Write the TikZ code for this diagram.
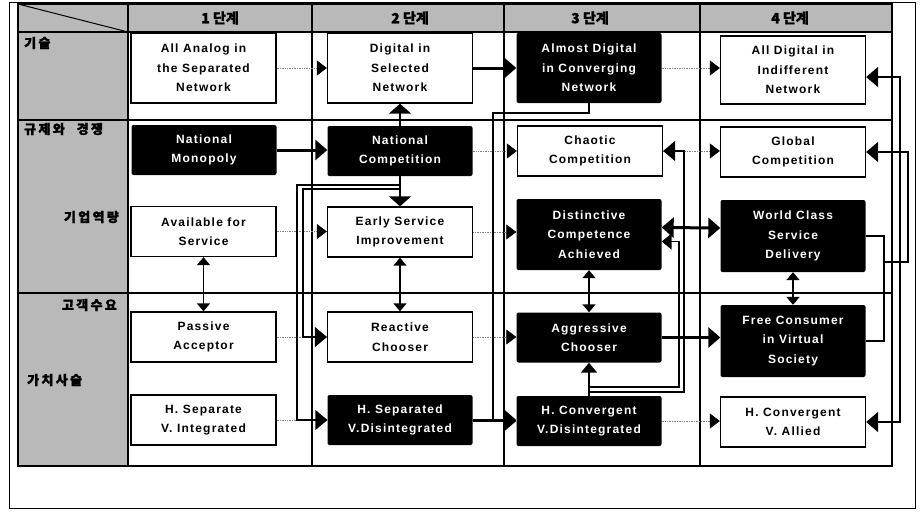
\documentclass[tikz,border=0pt]{standalone}
\usepackage{fontspec}
\usetikzlibrary{arrows.meta}

\newfontfamily\boxfont{Liberation Sans}[LetterSpace=10]
\newfontfamily\kofont{Noto Sans CJK KR}[LetterSpace=18, BoldFeatures={FakeBold=1.5}]
\newfontfamily\hdfont{Noto Sans CJK KR}[BoldFeatures={FakeBold=1.5}]

\tikzset{
  bigtip/.tip={Triangle[length=12pt,width=20pt]},
  midtip/.tip={Triangle[length=10pt,width=16pt]},
  smalltip/.tip={Triangle[length=8pt,width=13pt]},
  stage/.style={minimum width=145pt, minimum height=50pt, inner sep=0pt, align=center,
    font=\boxfont\bfseries\fontsize{12}{19.5}\selectfont},
  wstage/.style={stage, draw=black, line width=1.3pt, fill=white},
  bstage/.style={stage, fill=black, text=white, rounded corners=2pt},
  tall/.style={minimum height=70pt},
  rowlabel/.style={font=\kofont\bfseries\fontsize{13}{13}\selectfont, inner sep=0pt},
  colhead/.style={font=\hdfont\bfseries\fontsize{14}{14}\selectfont, inner sep=0pt},
  dotlink/.style={densely dotted, line width=0.7pt, black!50, -{Triangle[length=10pt,width=15pt,color=black]}},
  thicklink/.style={line width=3pt, -{bigtip}},
  link/.style={line width=1.8pt},
  twoway/.style={line width=1.5pt, {smalltip}-{smalltip}}
}

\begin{document}
\begin{tikzpicture}[x=1pt, y=-1pt]
  \useasboundingbox (0,0) rectangle (922,515);

  % Table
  \fill[gray!55] (18,4) rectangle (892,32);
  \fill[gray!55] (18,32) rectangle (128,466);
  \draw[line width=0.8pt] (9,2) rectangle (915,508);
  \draw[line width=1.4pt] (18,4) rectangle (892,466);
  \foreach \y in {32,120,293}
    \draw[line width=1.4pt] (18,\y) -- (892,\y);
  \foreach \x in {128,312,504,700}
    \draw[line width=1.4pt] (\x,4) -- (\x,466);
  \draw[line width=1pt] (18,4) -- (128,32);

  % Column heads
  \node[colhead] (hd1) at (220,18) {1 단계};
  \node[colhead] (hd2) at (410,18) {2 단계};
  \node[colhead] (hd3) at (590,18) {3 단계};
  \node[colhead] (hd4) at (790,18) {4 단계};

  % Row labels
  \node[rowlabel, anchor=west] (lbtech) at (24,43) {기술};
  \node[rowlabel, anchor=west] (lbreg) at (24,129) {규제와\hspace{12pt}경쟁};
  \node[rowlabel, anchor=east] (lbcap) at (119,217) {기업역량};
  \node[rowlabel, anchor=east] (lbcust) at (117,305) {고객수요};
  \node[rowlabel, anchor=west] (lbval) at (27,380) {가치사슬};

  % Stage boxes
  \node[wstage,tall] (tech1) at (203.5,68) {All Analog in\\the Separated\\Network};
  \node[wstage,tall] (tech2) at (400,68) {Digital in\\Selected\\Network};
  \node[bstage,tall] (tech3) at (589,68) {Almost Digital\\in Converging\\Network};
  \node[wstage,minimum height=68pt] (tech4) at (793,70) {All Digital in\\Indifferent\\Network};

  \node[bstage] (reg1) at (204,150) {National\\Monopoly};
  \node[bstage] (reg2) at (400,151) {National\\Competition};
  \node[wstage] (reg3) at (590,151) {Chaotic\\Competition};
  \node[wstage] (reg4) at (793,152) {Global\\Competition};

  \node[wstage] (cap1) at (203.5,231.5) {Available for\\Service};
  \node[wstage] (cap2) at (400,232) {Early Service\\Improvement};
  \node[bstage,minimum height=71pt] (cap3) at (589,234.5) {Distinctive\\Competence\\Achieved};
  \node[bstage,minimum height=72pt] (cap4) at (793,236) {World Class\\Service\\Delivery};

  \node[wstage] (cust1) at (203.5,337) {Passive\\Acceptor};
  \node[wstage] (cust2) at (400,337) {Reactive\\Chooser};
  \node[bstage] (cust3) at (589,337.5) {Aggressive\\Chooser};
  \node[bstage,minimum height=72pt] (cust4) at (793,341) {Free Consumer\\in Virtual\\Society};

  \node[wstage] (val1) at (203.5,420) {H. Separate\\V. Integrated};
  \node[bstage] (val2) at (400,420) {H. Separated\\V.Disintegrated};
  \node[bstage] (val3) at (589,421) {H. Convergent\\V.Disintegrated};
  \node[wstage] (val4) at (793,422) {H. Convergent\\V. Allied};

  % Dotted steps
  \draw[dotlink] (tech1.east) -- (tech2.west);
  \draw[dotlink] (tech3.east) -- (tech3.east -| tech4.west);
  \draw[dotlink] (reg2.east) -- (reg2.east -| reg3.west);
  \draw[dotlink] (reg3.east) -- (reg3.east -| reg4.west);
  \draw[dotlink] (cap1.east) -- (cap1.east -| cap2.west);
  \draw[dotlink] (cap2.east) -- (cap2.east -| cap3.west);
  \draw[dotlink] (cust1.east) -- (cust2.west);
  \draw[dotlink] (cust2.east) -- (cust2.east -| cust3.west);
  \draw[dotlink] (val1.east) -- (val2.west);
  \draw[dotlink] (val3.east) -- (val3.east -| val4.west);

  % Strong steps
  \draw[thicklink] (tech2.east) -- (tech3.west);
  \draw[thicklink] (reg1.east) -- (reg1.east -| reg2.west);
  \draw[thicklink] (cust3.east) -- (cust3.east -| cust4.west);
  \draw[thicklink] (val2.east) -- (val2.east -| val3.west);
  \draw[line width=3pt, {bigtip}-{bigtip}] ([yshift=7pt]cap3.east) -- ([yshift=8pt]cap4.west);

  % Two-way links
  \draw[twoway] (cap1.south) -- (cust1.north);
  \draw[twoway] (cap2.south) -- (cust2.north);
  \draw[twoway] (cap3.south) -- (cap3.south |- cust3.north);
  \draw[twoway] (cap4.south) -- (cust4.north);

  % National competition
  \coordinate (ro) at (297,185);
  \coordinate (ri) at (303,189);
  \draw[link,-{Triangle[length=10pt,width=22pt]}] (reg2.north) -- (tech2.south);
  \draw[link,-{Triangle[length=10pt,width=22pt]}] (reg2.south) -- (cap2.north);
  \draw[link,-{bigtip}] (reg2.south |- ri) -- (ri) |- (cust2.west);
  \draw[link,-{bigtip}] (reg2.south |- ro) -- (ro) |- (val2.west);

  % Almost digital down to convergence
  \coordinate (dg) at (493,113);
  \draw[link,-{bigtip}] (tech3.south) |- (dg) |- (val3.west);

  % Convergent value chain
  \coordinate (ei) at (679,387);
  \coordinate (eo) at (684,392);
  \draw[link,-{midtip}] (val3.north) -- (cust3.south);
  \draw[link,-{midtip}] (val3.north |- ei) -- (ei) |- ([yshift=-7pt]cap3.east);
  \draw[link,-{bigtip}] (val3.north |- eo) -- (eo) |- (reg3.east);

  % Right bracket
  \coordinate (bk) at (884,262);
  \coordinate (bm) at (900,262);
  \coordinate (bo) at (908,262);
  \draw[link] (cap4.east) -| (bk) |- (cust4.east);
  \draw[link,-{bigtip}] (bk) -- (bo) |- (reg4.east);
  \draw[link,-{bigtip}] (bm) |- ([yshift=-7pt]tech4.east);
  \draw[link,-{bigtip}] (bm) |- (val4.east);
\end{tikzpicture}
\end{document}
